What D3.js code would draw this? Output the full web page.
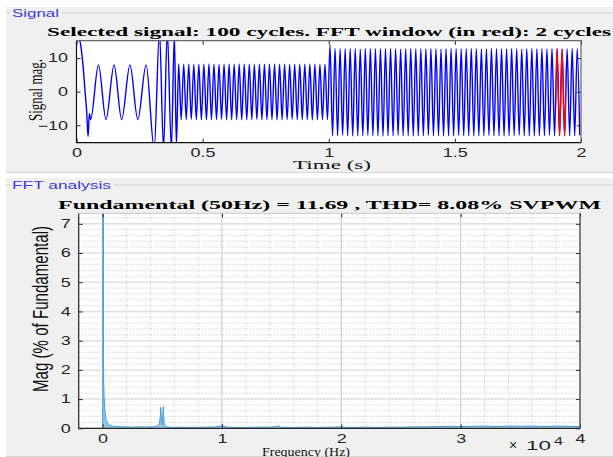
<!DOCTYPE html>
<html>
<head>
<meta charset="utf-8">
<script src="https://cdn.jsdelivr.net/npm/d3@7"></script>
<style>
  body { margin: 0; background: #fff; }
  svg { display: block; }
</style>
</head>
<body>
<svg id="chart" width="613" height="457"></svg>
<script>
// ---- data ----
// start-up transient (time in s, signal value)
const transT = [0, 0.006, 0.014, 0.025, 0.034, 0.040, 0.046, 0.051, 0.056, 0.087, 0.117, 0.149, 0.179,
  0.212, 0.243, 0.276, 0.308, 0.329, 0.345, 0.360, 0.376, 0.388, 0.396];
const transV = [15.5, 16.5, 15.0, 8.5, 0, -5.5, -13.4, -6.5, -8.3, 8.0, -8.3, 8.0, -8.3,
  8.0, -8.3, 8.0, -17, 18, -17, 18, -17, 17, -16];
// 50 Hz section, 0.4 - 1.0 s : peak and trough of each cycle
const midPeak = [8.3, 8.2, 8.2, 8.1, 8.2, 8.2, 8.3, 8.2, 8.1, 8.2, 8.2, 8.2, 8.3, 8.2, 8.2,
  8.1, 8.2, 8.2, 8.2, 8.3, 8.2, 8.2, 8.1, 8.2, 8.2, 8.2, 8.3, 8.2, 8.2, 8.2];
const midTrough = [-8.3, -8.3, -8.2, -8.3, -8.3, -8.4, -8.3, -8.3, -8.2, -8.3, -8.3, -8.3, -8.4, -8.3, -8.3,
  -8.2, -8.3, -8.3, -8.3, -8.4, -8.3, -8.3, -8.2, -8.3, -8.3, -8.3, -8.4, -8.3, -8.3, -8.3];
// 50 Hz section, 1.0 - 2.0 s
const endPeak = [13.9, 12.9, 12.8, 12.8, 12.9, 12.8, 12.7, 12.8, 12.9, 12.8, 12.8, 12.8, 12.9, 12.8, 12.7,
  12.8, 12.9, 12.8, 12.8, 12.8, 12.9, 12.8, 12.7, 12.8, 12.9, 12.8, 12.8, 12.8, 12.9, 12.8, 12.7, 12.8,
  12.9, 12.8, 12.8, 12.8, 12.9, 12.8, 12.7, 12.8, 12.9, 12.8, 12.8, 12.8, 12.9, 12.8, 12.7, 12.8, 12.9, 12.8];
const endTrough = [-13.1, -13.1, -13.0, -13.1, -13.2, -13.1, -13.1, -13.0, -13.1, -13.1, -13.2, -13.1, -13.1,
  -13.0, -13.1, -13.1, -13.2, -13.1, -13.1, -13.0, -13.1, -13.1, -13.2, -13.1, -13.1, -13.0, -13.1, -13.1,
  -13.2, -13.1, -13.1, -13.0, -13.1, -13.1, -13.2, -13.1, -13.1, -13.0, -13.1, -13.1, -13.2, -13.1, -13.1,
  -13.0, -13.1, -13.1, -13.2, -13.1, -13.1, -13.0];
const fftWin = [1.90, 1.94];
const timeTicks = [0, 0.5, 1, 1.5, 2];
const sigTicks = [-10, 0, 10];

// spectrum: frequency (Hz), magnitude (% of fundamental)
const fftFreq = [0, 25, 50, 75, 100, 125, 150, 200, 250, 300, 400, 500, 650, 800, 1000, 1300, 1600, 2000,
  2500, 3000, 3500, 4000, 4400, 4650, 4750, 4825, 4875, 4900, 4925, 4975, 5025, 5075, 5100, 5125, 5175,
  5250, 5350, 5600, 6000, 6500, 7000, 7500, 8000, 8500, 9000, 9500, 9900, 10000, 10100, 10500, 11000,
  12000, 13000, 14000, 14600, 14700, 14800, 14900, 15500, 16000, 17000, 18000, 19000, 19900, 20000, 20100,
  21000, 22000, 23000, 24000, 25000, 26000, 27000, 28000, 29000, 30000, 31000, 32000, 33000, 34000, 35000,
  36000, 37000, 38000, 39000, 40000];
const fftMag = [0.1, 1.2, 100, 2.4, 1.5, 1.1, 0.9, 0.6, 0.4, 0.3, 0.2, 0.13, 0.1, 0.08, 0.07, 0.06, 0.05, 0.05,
  0.04, 0.05, 0.04, 0.05, 0.05, 0.1, 0.15, 0.35, 0.72, 0.6, 0.3, 0.12, 0.2, 0.68, 0.74, 0.35, 0.15,
  0.1, 0.06, 0.04, 0.03, 0.04, 0.03, 0.04, 0.03, 0.04, 0.04, 0.05, 0.08, 0.12, 0.07, 0.04, 0.03,
  0.03, 0.04, 0.04, 0.06, 0.09, 0.07, 0.04, 0.03, 0.03, 0.04, 0.03, 0.04, 0.05, 0.06, 0.04,
  0.03, 0.04, 0.03, 0.04, 0.04, 0.05, 0.05, 0.06, 0.07, 0.06, 0.07, 0.08, 0.06, 0.08, 0.07,
  0.08, 0.06, 0.08, 0.07, 0.06];
const freqTicks = [0, 10000, 20000, 30000, 40000];
const magTicks = [0, 1, 2, 3, 4, 5, 6, 7];

// ---- build signal points (cycle extrema every half period of 50 Hz) ----
const sig = transT.map((t, i) => ({ t, v: transV[i] }));
midPeak.forEach((v, i) => {
  sig.push({ t: 0.405 + i * 0.02, v });
  sig.push({ t: 0.415 + i * 0.02, v: midTrough[i] });
});
endPeak.forEach((v, i) => {
  sig.push({ t: 1.005 + i * 0.02, v });
  sig.push({ t: 1.015 + i * 0.02, v: endTrough[i] });
});
const spec = fftFreq.map((f, i) => ({ f, m: fftMag[i] }));

const svg = d3.select('#chart');
const sans = 'Liberation Sans, Arial, sans-serif';
const serif = 'Liberation Serif, Times New Roman, serif';
const inkTick = '#262626';
const panelBlue = '#3a3ad6';

// ---- panels ----
const panels = [
  { y: 7, h: 166, label: 'Signal', lw: 47, ly: 13 },
  { y: 178, h: 279, label: 'FFT analysis', lw: 99, ly: 185 },
];
panels.forEach((p) => {
  svg.append('rect').attr('x', 6).attr('y', p.y).attr('width', 607).attr('height', p.h)
    .attr('fill', '#f0f0f0');
  svg.append('line').attr('x1', 6).attr('x2', 613).attr('y1', p.y + p.h - 0.5).attr('y2', p.y + p.h - 0.5)
    .attr('stroke', '#d6d6d6');
  svg.append('line').attr('x1', 6).attr('x2', 10).attr('y1', p.ly).attr('y2', p.ly).attr('stroke', '#cfcfcf');
  svg.append('line').attr('x1', 15 + p.lw).attr('x2', 613).attr('y1', p.ly).attr('y2', p.ly)
    .attr('stroke', '#cfcfcf');
  svg.append('text').attr('x', 12).attr('y', p.ly + 4)
    .attr('font-family', sans).attr('font-size', 10).attr('fill', panelBlue)
    .attr('textLength', p.lw).attr('lengthAdjust', 'spacingAndGlyphs')
    .text(p.label);
});

// stretch helper: the reference text is drawn wide
const wideX = (sel) => sel.attr('transform', 'scale(1.5,1)');

// ---- signal axes ----
const x1 = d3.scaleLinear().domain([0, 2]).range([76.5, 581]);
const y1 = d3.scaleLinear().domain([-15.2, 15.2]).range([142.7, 40.7]);

svg.append('rect').attr('x', x1(0)).attr('y', y1(15.2))
  .attr('width', x1(2) - x1(0)).attr('height', y1(-15.2) - y1(15.2)).attr('fill', '#fff');

svg.append('clipPath').attr('id', 'clipSig').append('rect')
  .attr('x', x1(0)).attr('y', y1(15.2)).attr('width', x1(2) - x1(0)).attr('height', y1(-15.2) - y1(15.2));
svg.append('clipPath').attr('id', 'clipWin').append('rect')
  .attr('x', x1(fftWin[0])).attr('y', y1(15.2))
  .attr('width', x1(fftWin[1]) - x1(fftWin[0])).attr('height', y1(-15.2) - y1(15.2));

const sigLine = d3.line().x((d) => x1(d.t)).y((d) => y1(d.v)).curve(d3.curveMonotoneX);
svg.append('path').datum(sig).attr('clip-path', 'url(#clipSig)')
  .attr('d', sigLine).attr('fill', 'none').attr('stroke', '#0000ff').attr('stroke-width', 1.4);
svg.append('path').datum(sig).attr('clip-path', 'url(#clipWin)')
  .attr('d', sigLine).attr('fill', 'none').attr('stroke', '#ff0000').attr('stroke-width', 1.4);

const styleAxis = (g) => {
  g.select('.domain').remove();
  g.selectAll('line').attr('stroke', inkTick);
  g.selectAll('text').attr('font-family', sans).attr('font-size', 12).attr('fill', inkTick);
};

svg.append('g').attr('transform', `translate(0,${y1(-15.2)})`)
  .call(d3.axisBottom(x1).tickValues(timeTicks).tickSize(-4).tickPadding(5.5).tickFormat(d3.format('')))
  .call(styleAxis).call((g) => wideX(g.selectAll('text')));
svg.append('g').attr('transform', `translate(0,${y1(15.2)})`)
  .call(d3.axisTop(x1).tickValues(timeTicks).tickSize(-4).tickFormat(''))
  .call(styleAxis);
svg.append('g').attr('transform', `translate(${x1(0)},0)`)
  .call(d3.axisLeft(y1).tickValues(sigTicks).tickSize(-4))
  .call(styleAxis).call((g) => wideX(g.selectAll('text').attr('x', -8.5 / 1.5)));
svg.append('g').attr('transform', `translate(${x1(2)},0)`)
  .call(d3.axisRight(y1).tickValues(sigTicks).tickSize(-4).tickFormat(''))
  .call(styleAxis);

// frame
svg.append('path')
  .attr('d', `M${x1(0)},${y1(15.2)}V${y1(-15.2)}H${x1(2)}`)
  .attr('fill', 'none').attr('stroke', '#111').attr('stroke-width', 1.2);
svg.append('path')
  .attr('d', `M${x1(0)},${y1(15.2)}H${x1(2)}V${y1(-15.2)}`)
  .attr('fill', 'none').attr('stroke', '#666').attr('stroke-width', 1.2);

svg.append('text').attr('x', 47).attr('y', 36)
  .attr('font-family', serif).attr('font-weight', 'bold').attr('font-size', 13.5)
  .attr('textLength', 564).attr('lengthAdjust', 'spacingAndGlyphs')
  .text('Selected signal: 100 cycles. FFT window (in red): 2 cycles');
svg.append('text').attr('x', 293).attr('y', 169)
  .attr('font-family', serif).attr('font-size', 12.5).attr('fill', '#111')
  .attr('textLength', 78).attr('lengthAdjust', 'spacingAndGlyphs')
  .text('Time (s)');
svg.append('text').attr('transform', 'translate(42,90) rotate(-90) scale(1,1.5)')
  .attr('text-anchor', 'middle')
  .attr('font-family', serif).attr('font-size', 13).attr('fill', '#111')
  .text('Signal mag.');

// ---- FFT axes ----
const x2 = d3.scaleLinear().domain([-2000, 40000]).range([78.7, 580]);
const y2 = d3.scaleLinear().domain([0, 7.36]).range([428.3, 213.3]);

svg.append('rect').attr('x', x2(-2000)).attr('y', y2(7.36))
  .attr('width', x2(40000) - x2(-2000)).attr('height', y2(0) - y2(7.36)).attr('fill', '#fff');

// minor dotted grid
const minorX = d3.range(-2000, 40001, 2000).filter((f) => f % 10000 !== 0);
const minorY = d3.range(0.2, 7.36, 0.2).filter((m) => Math.abs(m - Math.round(m)) > 0.01);
const grid = svg.append('g');
grid.selectAll('.mx').data(minorX).join('line')
  .attr('x1', (d) => x2(d)).attr('x2', (d) => x2(d)).attr('y1', y2(0)).attr('y2', y2(7.36))
  .attr('stroke', '#b4b4b4').attr('stroke-width', 0.8).attr('stroke-dasharray', '1,2');
grid.selectAll('.my').data(minorY).join('line')
  .attr('x1', x2(-2000)).attr('x2', x2(40000)).attr('y1', (d) => y2(d)).attr('y2', (d) => y2(d))
  .attr('stroke', '#b4b4b4').attr('stroke-width', 0.8).attr('stroke-dasharray', '1,2');
// major grid
grid.selectAll('.Mx').data(freqTicks).join('line')
  .attr('x1', (d) => x2(d)).attr('x2', (d) => x2(d)).attr('y1', y2(0)).attr('y2', y2(7.36))
  .attr('stroke', '#c4c4c4').attr('stroke-width', 1);
grid.selectAll('.My').data(magTicks).join('line')
  .attr('x1', x2(-2000)).attr('x2', x2(40000)).attr('y1', (d) => y2(d)).attr('y2', (d) => y2(d))
  .attr('stroke', '#e0e0e0').attr('stroke-width', 1.5);

svg.append('clipPath').attr('id', 'clipFft').append('rect')
  .attr('x', x2(-2000)).attr('y', y2(7.36)).attr('width', x2(40000) - x2(-2000)).attr('height', y2(0) - y2(7.36));

const specArea = d3.area().x((d) => x2(d.f)).y0(y2(0)).y1((d) => y2(d.m));
const specLine = d3.line().x((d) => x2(d.f)).y((d) => y2(d.m));
svg.append('path').datum(spec).attr('clip-path', 'url(#clipFft)')
  .attr('d', specArea).attr('fill', '#8fc7ec');
svg.append('path').datum(spec).attr('clip-path', 'url(#clipFft)')
  .attr('d', specLine).attr('fill', 'none').attr('stroke', '#4b9dd6').attr('stroke-width', 1);

svg.append('g').attr('transform', `translate(0,${y2(0)})`)
  .call(d3.axisBottom(x2).tickValues(freqTicks).tickSize(-4).tickPadding(6).tickFormat((d) => d / 10000))
  .call(styleAxis).call((g) => wideX(g.selectAll('text')));
svg.append('g').attr('transform', `translate(0,${y2(7.36)})`)
  .call(d3.axisTop(x2).tickValues(freqTicks).tickSize(-4).tickFormat(''))
  .call(styleAxis);
svg.append('g').attr('transform', `translate(${x2(-2000)},0)`)
  .call(d3.axisLeft(y2).tickValues(magTicks).tickSize(-4))
  .call(styleAxis).call((g) => wideX(g.selectAll('text').attr('x', -8 / 1.5)));
svg.append('g').attr('transform', `translate(${x2(40000)},0)`)
  .call(d3.axisRight(y2).tickValues(magTicks).tickSize(-4).tickFormat(''))
  .call(styleAxis);

svg.append('path')
  .attr('d', `M${x2(-2000)},${y2(7.36)}V${y2(0)}H${x2(40000)}`)
  .attr('fill', 'none').attr('stroke', '#262626').attr('stroke-width', 1.2);
svg.append('path')
  .attr('d', `M${x2(-2000)},${y2(7.36)}H${x2(40000)}`)
  .attr('fill', 'none').attr('stroke', '#c8c8c8').attr('stroke-width', 1);
svg.append('path')
  .attr('d', `M${x2(40000)},${y2(7.36)}V${y2(0)}`)
  .attr('fill', 'none').attr('stroke', '#555').attr('stroke-width', 1.4);

// exponent label
const expo = svg.append('text').attr('font-family', sans).attr('fill', inkTick);
expo.append('tspan').attr('x', 509).attr('y', 450).attr('font-size', 14).text('×');
expo.append('tspan').attr('x', 526).attr('y', 450).attr('font-size', 12.5)
  .attr('textLength', 25).attr('lengthAdjust', 'spacingAndGlyphs').text('10');
expo.append('tspan').attr('x', 554).attr('y', 445).attr('font-size', 10)
  .attr('textLength', 9).attr('lengthAdjust', 'spacingAndGlyphs').text('4');

svg.append('text').attr('x', 58).attr('y', 208.5)
  .attr('font-family', serif).attr('font-weight', 'bold').attr('font-size', 13.5)
  .attr('textLength', 543).attr('lengthAdjust', 'spacingAndGlyphs')
  .text('Fundamental (50Hz) = 11.69 , THD= 8.08% SVPWM');
svg.append('text').attr('x', 262).attr('y', 455.5)
  .attr('font-family', serif).attr('font-size', 13).attr('fill', '#111')
  .attr('textLength', 88).attr('lengthAdjust', 'spacingAndGlyphs')
  .text('Frequency (Hz)');
svg.append('text').attr('transform', 'translate(48,309) rotate(-90) scale(1,1.5)')
  .attr('text-anchor', 'middle')
  .attr('font-family', sans).attr('font-size', 15).attr('fill', '#111')
  .attr('textLength', 166).attr('lengthAdjust', 'spacingAndGlyphs')
  .text('Mag (% of Fundamental)');
</script>
</body>
</html>
